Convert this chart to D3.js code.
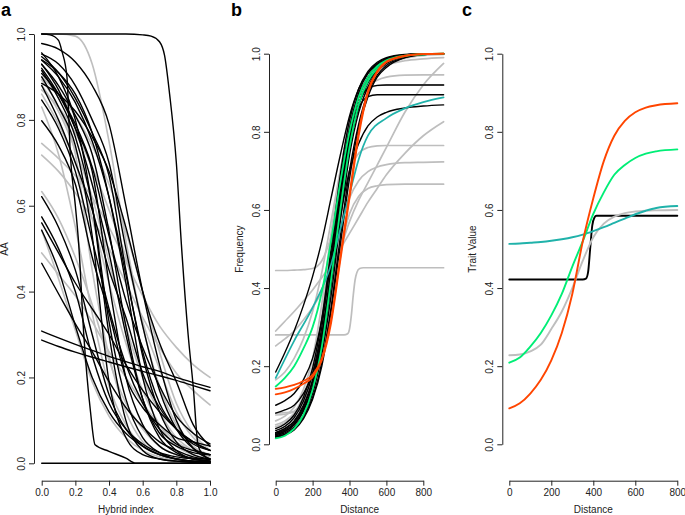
<!DOCTYPE html>
<html><head><meta charset="utf-8">
<script src="https://cdn.jsdelivr.net/npm/d3@7"></script>
<style>body{margin:0;background:#fff}</style>
</head><body>
<script>
// ---------------- DATA ----------------
// Panel a: AA vs hybrid index
const hybridIndex = [0,0.1,0.2,0.3,0.4,0.5,0.6,0.7,0.8,0.9,1.0];
const aaBlack = [
 [0.978,0.965,0.935,0.88,0.79,0.6,0.4,0.23,0.1,0.035,0.01],
 [0.953,0.93,0.88,0.8,0.7,0.5,0.32,0.17,0.08,0.035,0.02],
 [0.947,0.91,0.85,0.77,0.67,0.45,0.25,0.12,0.05,0.02,0.01],
 [0.939,0.9,0.84,0.75,0.62,0.44,0.26,0.14,0.08,0.045,0.03],
 [0.929,0.88,0.81,0.72,0.54,0.32,0.15,0.06,0.025,0.012,0.01],
 [0.92,0.86,0.78,0.68,0.42,0.2,0.09,0.04,0.02,0.01,0.005],
 [0.915,0.85,0.76,0.6,0.33,0.15,0.06,0.025,0.01,0.005,0.003],
 [0.908,0.86,0.79,0.69,0.53,0.38,0.27,0.18,0.11,0.07,0.045],
 [0.9,0.83,0.74,0.53,0.19,0.06,0.02,0.01,0.005,0.003,0.002],
 [0.846,0.78,0.68,0.52,0.36,0.23,0.14,0.08,0.045,0.03,0.02],
 [0.798,0.74,0.65,0.48,0.35,0.2,0.13,0.09,0.06,0.05,0.04],
 [0.621,0.55,0.45,0.3,0.16,0.08,0.04,0.02,0.01,0.005,0.003],
 [0.574,0.5,0.4,0.25,0.14,0.08,0.045,0.025,0.015,0.01,0.005],
 [0.56,0.49,0.42,0.36,0.3,0.23,0.17,0.12,0.08,0.05,0.03],
 [0.543,0.45,0.32,0.2,0.12,0.07,0.04,0.02,0.01,0.005,0.003],
 [0.466,0.395,0.325,0.26,0.19,0.13,0.085,0.05,0.03,0.015,0.008],
 [0.308,0.292,0.277,0.263,0.249,0.237,0.225,0.214,0.2,0.188,0.177],
 [0.287,0.272,0.259,0.247,0.236,0.225,0.214,0.204,0.193,0.181,0.169],
 [0,0,0,0,0,0,0,0,0,0,0],
 [0.956,0.9,0.8,0.6,0.3,0.1,0.03,0.01,0.005,0.002,0.001],
 [0.885,0.86,0.82,0.76,0.68,0.55,0.4,0.28,0.19,0.09,0.04],
 [0.93,0.87,0.78,0.65,0.49,0.3,0.15,0.07,0.04,0.025,0.02],
 [0.94,0.91,0.86,0.77,0.62,0.42,0.2,0.08,0.03,0.01,0.005],
 [0.88,0.8,0.7,0.59,0.45,0.34,0.21,0.13,0.08,0.05,0.03]
];
const aaGray = [
 [1,1,0.995,0.93,0.75,0.52,0.32,0.18,0.09,0.04,0.02],
 [0.893,0.83,0.72,0.45,0.25,0.12,0.05,0.02,0.01,0.005,0.003],
 [0.88,0.82,0.73,0.62,0.47,0.32,0.2,0.12,0.06,0.03,0.015],
 [0.87,0.83,0.77,0.69,0.59,0.48,0.33,0.22,0.12,0.06,0.03],
 [0.86,0.79,0.7,0.57,0.42,0.28,0.17,0.09,0.04,0.02,0.01],
 [0.745,0.71,0.67,0.62,0.55,0.47,0.39,0.32,0.27,0.23,0.2],
 [0.718,0.68,0.63,0.57,0.5,0.42,0.34,0.27,0.21,0.17,0.136],
 [0.633,0.57,0.48,0.37,0.24,0.14,0.08,0.04,0.02,0.01,0.005],
 [0.543,0.43,0.31,0.19,0.11,0.06,0.03,0.015,0.008,0.004,0.002],
 [0.49,0.44,0.39,0.33,0.26,0.2,0.14,0.09,0.05,0.03,0.02],
 [0.83,0.72,0.55,0.35,0.18,0.09,0.04,0.02,0.01,0.005,0.003],
 [0.9,0.86,0.81,0.74,0.65,0.54,0.4,0.26,0.14,0.07,0.03]
];
const aaSteepX = [0,0.05,0.1,0.12,0.15,0.17,0.2,0.22,0.25,0.29,0.317,0.4,0.5,0.56,1];
const aaSteepY = [1,0.998,0.985,0.96,0.9,0.72,0.6,0.51,0.3,0.12,0.043,0.028,0.012,0,0];
const aaLateX = [0,0.5,0.6,0.65,0.7,0.73,0.76,0.8,0.83,0.87,0.9,0.93,0.96,1];
const aaLateY = [1,1,0.998,0.995,0.982,0.95,0.86,0.7,0.51,0.3,0.18,0.04,0.02,0.01];

// Panel b: frequency vs distance
const distGrid = [0,50,100,150,200,250,300,350,400,450,500,550,600,700,800,910];
const freqBlack = [
 [0.02,0.026,0.04,0.07,0.12,0.21,0.35,0.53,0.7,0.82,0.9,0.945,0.97,0.99,0.998,1],
 [0.025,0.033,0.05,0.085,0.145,0.25,0.41,0.6,0.76,0.87,0.93,0.963,0.98,0.995,0.999,1],
 [0.03,0.04,0.06,0.1,0.165,0.28,0.45,0.64,0.79,0.89,0.94,0.97,0.985,0.996,0.999,1],
 [0.018,0.024,0.037,0.065,0.115,0.2,0.34,0.51,0.68,0.81,0.89,0.94,0.965,0.99,0.998,1],
 [0.035,0.046,0.068,0.11,0.18,0.3,0.48,0.67,0.81,0.9,0.95,0.975,0.988,0.997,1,1],
 [0.1,0.112,0.13,0.165,0.22,0.32,0.47,0.65,0.8,0.89,0.94,0.97,0.985,0.997,1,1],
 [0.185,0.235,0.29,0.355,0.43,0.52,0.63,0.74,0.84,0.91,0.95,0.972,0.985,0.996,0.999,1],
 [0.03,0.04,0.058,0.095,0.16,0.27,0.44,0.63,0.78,0.87,0.912,0.919,0.92,0.92,0.92,0.92],
 [0.025,0.033,0.05,0.085,0.145,0.25,0.41,0.6,0.76,0.86,0.89,0.895,0.895,0.895,0.895,0.895],
 [0.028,0.036,0.054,0.09,0.15,0.26,0.42,0.58,0.7,0.77,0.815,0.838,0.85,0.861,0.866,0.869],
 [0.04,0.052,0.075,0.12,0.195,0.32,0.5,0.69,0.83,0.91,0.955,0.978,0.99,0.998,1,1],
 [0.022,0.029,0.044,0.075,0.13,0.23,0.38,0.57,0.74,0.85,0.915,0.955,0.975,0.993,0.999,1],
 [0.08,0.088,0.1,0.13,0.18,0.28,0.43,0.61,0.77,0.87,0.925,0.958,0.977,0.993,0.998,1]
];
const freqGray = [
 [0.045,0.055,0.075,0.115,0.19,0.32,0.5,0.67,0.8,0.875,0.915,0.932,0.94,0.945,0.946,0.946],
 [0.05,0.06,0.08,0.125,0.2,0.33,0.51,0.69,0.82,0.89,0.912,0.918,0.92,0.92,0.92,0.92],
 [0.06,0.072,0.095,0.14,0.22,0.36,0.54,0.7,0.82,0.895,0.935,0.957,0.97,0.982,0.987,0.99],
 [0.165,0.185,0.22,0.27,0.34,0.44,0.57,0.7,0.81,0.885,0.93,0.956,0.972,0.988,0.995,0.998],
 [0.08,0.081,0.083,0.095,0.14,0.24,0.38,0.5,0.59,0.635,0.655,0.662,0.665,0.666,0.666,0.666],
 [0.075,0.077,0.085,0.11,0.17,0.28,0.43,0.55,0.63,0.675,0.698,0.71,0.716,0.721,0.722,0.723],
 [0.445,0.445,0.446,0.447,0.45,0.47,0.53,0.62,0.7,0.745,0.76,0.764,0.765,0.765,0.765,0.765],
 [0.29,0.315,0.34,0.367,0.395,0.427,0.46,0.5,0.54,0.58,0.62,0.655,0.69,0.745,0.79,0.826],
 [0.252,0.27,0.29,0.318,0.35,0.39,0.44,0.5,0.57,0.625,0.67,0.715,0.76,0.85,0.92,0.975]
];
const freqStepX = [0,370,390,400,410,420,430,440,455,475,910];
const freqStepY = [0.28,0.28,0.283,0.295,0.33,0.38,0.42,0.44,0.45,0.452,0.452];
const freqTealX = [0,100,200,300,350,400,450,500,600,700,800,910];
const freqTealY = [0.17,0.265,0.35,0.46,0.55,0.64,0.73,0.79,0.835,0.86,0.876,0.888];
const freqGreen = [
 [0.148,0.17,0.2,0.245,0.3,0.39,0.52,0.67,0.8,0.89,0.94,0.968,0.983,0.995,0.999,1],
 [0.015,0.022,0.04,0.075,0.14,0.25,0.42,0.6,0.76,0.87,0.93,0.962,0.98,0.994,0.998,1]
];
const freqOrange = [
 [0.142,0.146,0.152,0.162,0.178,0.22,0.32,0.48,0.64,0.8,0.905,0.955,0.98,0.995,0.999,1],
 [0.128,0.133,0.142,0.155,0.172,0.215,0.31,0.47,0.63,0.79,0.9,0.952,0.978,0.994,0.999,1]
];

// Panel c: trait value vs distance
const traitDist = [0,50,100,150,200,250,300,350,400,450,500,550,600,650,700,800];
const traitOrange = [0.092,0.105,0.13,0.165,0.215,0.285,0.385,0.52,0.63,0.725,0.79,0.828,0.85,0.862,0.868,0.873];
const traitGreen = [0.209,0.222,0.25,0.285,0.33,0.385,0.455,0.52,0.59,0.645,0.69,0.715,0.733,0.744,0.75,0.755];
const traitGray = [0.228,0.23,0.238,0.255,0.295,0.34,0.4,0.47,0.53,0.565,0.583,0.592,0.596,0.598,0.599,0.6];
const traitTeal = [0.513,0.514,0.516,0.518,0.521,0.525,0.53,0.537,0.546,0.556,0.567,0.578,0.589,0.598,0.605,0.61];
const traitStepX = [0,350,365,375,385,395,405,415,800];
const traitStepY = [0.422,0.422,0.424,0.44,0.5,0.56,0.58,0.585,0.585];

// Ticks
const ticksUnit = [0,0.2,0.4,0.6,0.8,1.0];
const ticksDist = [0,200,400,600,800];

// ---------------- DRAWING ----------------
const FONT = "'Liberation Sans', Arial, Helvetica, sans-serif";
const COL = {black:"#000", gray:"#bebebe", green:"#00ee76", orange:"#ff4500", teal:"#20b2aa"};
const svg = d3.select("body").append("svg").attr("width",685).attr("height",515);
svg.append("rect").attr("width",685).attr("height",515).attr("fill","#fff");

const xA = d3.scaleLinear().domain([0,1]).range([41.7,210]);
const yA = d3.scaleLinear().domain([0,1]).range([463.3,34]);
const xB = d3.scaleLinear().domain([0,800]).range([275.7,423.3]);
const yB = d3.scaleLinear().domain([0,1]).range([444.3,53.7]);
const xC = d3.scaleLinear().domain([0,800]).range([509.3,677.3]);
const yC = d3.scaleLinear().domain([0,1]).range([444.3,53.7]);

function axes(x, y, xTicks, xFmt, xAxisY, yAxisX, xTitle, titleX, yTitle, panelLabel, labelX) {
  const gx = svg.append("g").attr("transform",`translate(0,${xAxisY})`)
    .call(d3.axisBottom(x).tickValues(xTicks).tickFormat(xFmt).tickSize(5).tickSizeOuter(0));
  const gy = svg.append("g").attr("transform",`translate(${yAxisX},0)`)
    .call(d3.axisLeft(y).tickValues(ticksUnit).tickFormat(d3.format(".1f")).tickSize(5).tickSizeOuter(0));
  [gx,gy].forEach(g => {
    g.attr("font-family",FONT).attr("font-size",10).attr("color","#222");
    g.selectAll("path,line").attr("stroke-width",1);
  });
  gx.selectAll(".tick text").attr("y",8).attr("dy","0.71em").attr("fill","#222");
  gy.selectAll(".tick text").attr("transform","rotate(-90)").attr("x",0).attr("y",-9)
    .attr("dy",0).attr("text-anchor","middle").attr("fill","#222");
  svg.append("text").attr("x", titleX).attr("y",512.5).attr("text-anchor","middle")
    .attr("font-family",FONT).attr("font-size",10).attr("fill","#222").text(xTitle);
  svg.append("text").attr("transform",`translate(${yAxisX-26.5},249) rotate(-90)`).attr("text-anchor","middle")
    .attr("font-family",FONT).attr("font-size",10).attr("fill","#222").text(yTitle);
  svg.append("text").attr("x",labelX).attr("y",16).attr("font-family",FONT).attr("font-size",18)
    .attr("font-weight","bold").attr("fill","#000").text(panelLabel);
}

function gridLine(xs, x, y){
  return d3.line().x((d,i)=>x(xs[i])).y(d=>y(d)).curve(d3.curveMonotoneX);
}
function pairLine(x, y){
  return d3.line().x(d=>x(d[0])).y(d=>y(d[1])).curve(d3.curveMonotoneX);
}
function path(g, dstr, color, w){
  g.append("path").attr("d",dstr).attr("fill","none").attr("stroke",color)
   .attr("stroke-width",w).attr("stroke-linejoin","round").attr("stroke-linecap","round");
}

// Panel a
const gA = svg.append("g");
const lA = gridLine(hybridIndex, xA, yA);
aaGray.forEach(s => path(gA, lA(s), COL.gray, 1.6));
aaBlack.forEach(s => path(gA, lA(s), COL.black, 1.4));
path(gA, pairLine(xA,yA)(d3.zip(aaSteepX, aaSteepY)), COL.black, 1.4);
path(gA, pairLine(xA,yA)(d3.zip(aaLateX, aaLateY)), COL.black, 1.4);
axes(xA, yA, ticksUnit, d3.format(".1f"), 480.7, 34, "Hybrid index", 125.9, "AA", "a", 1);

// Panel b
const gB = svg.append("g");
const lB = gridLine(distGrid, xB, yB);
freqGray.forEach(s => path(gB, lB(s), COL.gray, 1.7));
path(gB, pairLine(xB,yB)(d3.zip(freqStepX, freqStepY)), COL.gray, 1.7);
freqBlack.forEach(s => path(gB, lB(s), COL.black, 1.4));
path(gB, pairLine(xB,yB)(d3.zip(freqTealX, freqTealY)), COL.teal, 1.7);
freqGreen.forEach(s => path(gB, lB(s), COL.green, 1.8));
freqOrange.forEach(s => path(gB, lB(s), COL.orange, 1.8));
axes(xB, yB, ticksDist, d3.format("d"), 480.7, 269, "Distance", 359.6, "Frequency", "b", 231);

// Panel c
const gC = svg.append("g");
const lC = gridLine(traitDist, xC, yC);
path(gC, pairLine(xC,yC)(d3.zip(traitStepX, traitStepY)), COL.black, 1.9);
path(gC, lC(traitGray), COL.gray, 1.9);
path(gC, lC(traitTeal), COL.teal, 1.9);
path(gC, lC(traitGreen), COL.green, 1.9);
path(gC, lC(traitOrange), COL.orange, 1.9);
axes(xC, yC, ticksDist, d3.format("d"), 480.7, 502.3, "Distance", 593.3, "Trait Value", "c", 462);
</script>
</body></html>
